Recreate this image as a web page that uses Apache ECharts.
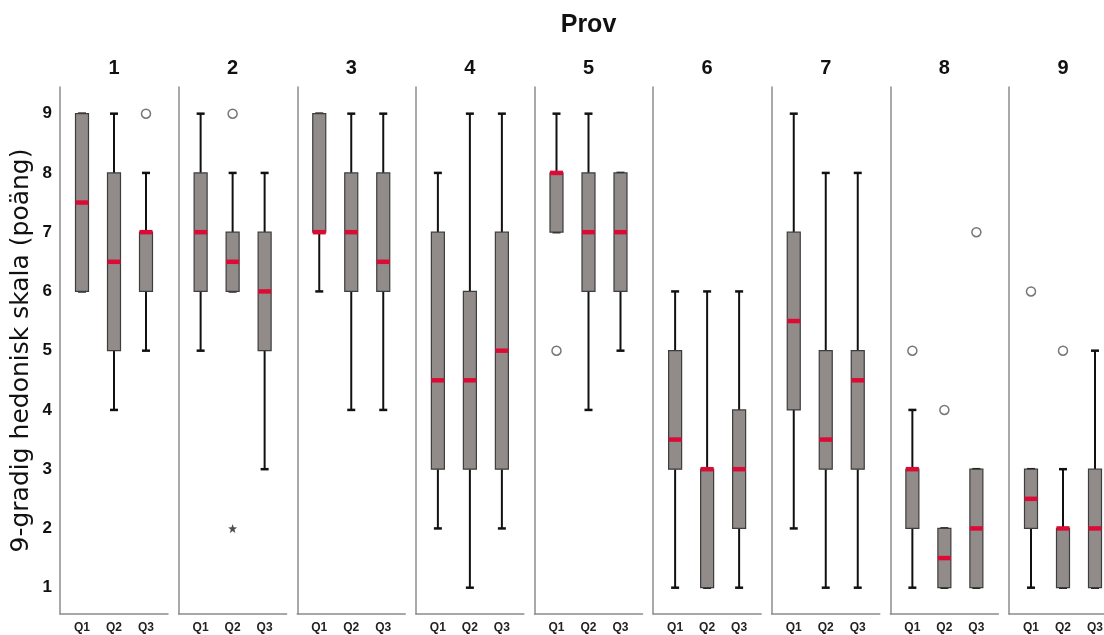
<!DOCTYPE html>
<html><head><meta charset="utf-8">
<script src="https://cdn.jsdelivr.net/npm/echarts@6/dist/echarts.min.js"></script>
<style>html,body{margin:0;padding:0;background:#fff}#c{width:1104px;height:635px}</style>
</head><body><div id="c"></div>
<script>
// ---------------- DATA ----------------
const categories = ['Q1', 'Q2', 'Q3'];
const panelNames = ['1', '2', '3', '4', '5', '6', '7', '8', '9'];
const yTicks = [1, 2, 3, 4, 5, 6, 7, 8, 9];
// each box: [min, Q1, median, Q3, max]
const prov1 = [[6, 6, 7.5, 9, 9], [4, 5, 6.5, 8, 9], [5, 6, 7, 7, 8]];
const prov2 = [[5, 6, 7, 8, 9], [6, 6, 6.5, 7, 8], [3, 5, 6, 7, 8]];
const prov3 = [[6, 7, 7, 9, 9], [4, 6, 7, 8, 9], [4, 6, 6.5, 8, 9]];
const prov4 = [[2, 3, 4.5, 7, 8], [1, 3, 4.5, 6, 9], [2, 3, 5, 7, 9]];
const prov5 = [[7, 7, 8, 8, 9], [4, 6, 7, 8, 9], [5, 6, 7, 8, 8]];
const prov6 = [[1, 3, 3.5, 5, 6], [1, 1, 3, 3, 6], [1, 2, 3, 4, 6]];
const prov7 = [[2, 4, 5.5, 7, 9], [1, 3, 3.5, 5, 8], [1, 3, 4.5, 5, 8]];
const prov8 = [[1, 2, 3, 3, 4], [1, 1, 1.5, 2, 2], [1, 1, 2, 3, 3]];
const prov9 = [[1, 2, 2.5, 3, 3], [1, 1, 2, 2, 3], [1, 1, 2, 3, 5]];
const boxData = [prov1, prov2, prov3, prov4, prov5, prov6, prov7, prov8, prov9];
// [panel index, category index, value]
const outliers = [[0, 2, 9], [1, 1, 9], [4, 0, 5], [7, 0, 5], [7, 1, 4], [7, 2, 7], [8, 0, 6], [8, 1, 5]];
const extremes = [[1, 1, 2]];

// ---------------- LAYOUT ----------------
const P_LEFT0 = 60, P_STEP = 118.625, P_W = 108, P_TOP = 87, P_H = 527, INSET = 6;
const Y_MIN = 0.556, Y_MAX = 9.45;
const FONT = 'Liberation Sans, Arial, sans-serif';
const FRAME = { color: '#8c8c8c', width: 1.5 };

function renderBox(params, api) {
  const x = api.value(0);
  const pMin = api.coord([x, api.value(1)]);
  const pQ1 = api.coord([x, api.value(2)]);
  const pMed = api.coord([x, api.value(3)]);
  const pQ3 = api.coord([x, api.value(4)]);
  const pMax = api.coord([x, api.value(5)]);
  const cx = pMin[0];
  const bw = 13, cw = 8, mh = 4.5;
  const ws = { stroke: '#111', lineWidth: 2 };
  const cs = { stroke: '#111', lineWidth: 2.5 };
  return {
    type: 'group',
    children: [
      { type: 'line', shape: { x1: cx, y1: pQ3[1], x2: cx, y2: pMax[1] }, style: ws },
      { type: 'line', shape: { x1: cx, y1: pQ1[1], x2: cx, y2: pMin[1] }, style: ws },
      { type: 'line', shape: { x1: cx - cw / 2, y1: pMax[1], x2: cx + cw / 2, y2: pMax[1] }, style: cs },
      { type: 'line', shape: { x1: cx - cw / 2, y1: pMin[1], x2: cx + cw / 2, y2: pMin[1] }, style: cs },
      { type: 'rect', shape: { x: cx - bw / 2, y: pQ3[1], width: bw, height: pQ1[1] - pQ3[1] },
        style: { fill: '#918c8a', stroke: '#3d3d3d', lineWidth: 1.2 } },
      { type: 'rect', shape: { x: cx - bw / 2, y: pMed[1] - mh / 2, width: bw, height: mh },
        style: { fill: '#dc0b35' } }
    ]
  };
}

const grid = [], xAxis = [], yAxis = [], series = [];
panelNames.forEach((name, i) => {
  const left = P_LEFT0 + i * P_STEP;
  grid.push({ left: left, top: P_TOP, width: P_W, height: P_H, outerBoundsMode: 'none', containLabel: false });
  grid.push({ left: left + INSET, top: P_TOP, width: P_W - 2 * INSET, height: P_H, outerBoundsMode: 'none', containLabel: false });
  const fg = 2 * i, dg = 2 * i + 1;
  const xb = xAxis.length;
  xAxis.push({ gridIndex: fg, type: 'category', data: categories, position: 'bottom',
    axisLine: { show: true, lineStyle: FRAME }, axisTick: { show: false }, axisLabel: { show: false } });
  xAxis.push({ gridIndex: fg, type: 'category', data: categories, position: 'top',
    axisLine: { show: false }, axisTick: { show: false }, axisLabel: { show: false },
    name: name, nameLocation: 'middle', nameGap: 9,
    nameTextStyle: { fontSize: 20, fontWeight: 'bold', color: '#111', fontFamily: FONT } });
  xAxis.push({ gridIndex: dg, type: 'category', data: categories, position: 'bottom',
    axisLine: { show: false }, axisTick: { show: false },
    axisLabel: { show: true, fontSize: 12, fontWeight: 'bold', color: '#222', margin: 8, fontFamily: FONT } });
  yAxis.push({ gridIndex: fg, type: 'value', min: Y_MIN, max: Y_MAX,
    axisLine: { show: true, lineStyle: FRAME }, axisTick: { show: false }, splitLine: { show: false },
    axisLabel: i === 0 ? { show: true, customValues: yTicks, fontSize: 17, fontWeight: 'bold', color: '#111',
      margin: 8, padding: [6, 0, 0, 0], fontFamily: 'Liberation Sans Narrow, ' + FONT } : { show: false },
    name: i === 0 ? '9-gradig hedonisk skala (poäng)' : '', nameLocation: 'middle', nameGap: 26, nameRotate: 90,
    nameTextStyle: { fontSize: 25, color: '#111', fontFamily: 'DejaVu Sans, sans-serif' } });
  yAxis.push({ gridIndex: dg, type: 'value', min: Y_MIN, max: Y_MAX, show: false });

  series.push({ type: 'custom', xAxisIndex: xb + 2, yAxisIndex: dg, renderItem: renderBox,
    encode: { x: 0, y: [1, 2, 3, 4, 5] }, clip: false,
    data: boxData[i].map((b, j) => [j].concat(b)) });
  series.push({ type: 'scatter', xAxisIndex: xb + 2, yAxisIndex: dg, symbol: 'circle', symbolSize: 9,
    itemStyle: { color: '#fff', borderColor: '#555', borderWidth: 1.5 }, z: 5,
    data: outliers.filter(o => o[0] === i).map(o => [o[1], o[2]]) });
  series.push({ type: 'scatter', xAxisIndex: xb + 2, yAxisIndex: dg, z: 5,
    symbol: 'path://M0,-10L2.351,-3.236L9.511,-3.09L3.804,1.236L5.878,8.09L0,4L-5.878,8.09L-3.804,1.236L-9.511,-3.09L-2.351,-3.236Z',
    symbolSize: 9, itemStyle: { color: '#222' },
    data: extremes.filter(o => o[0] === i).map(o => [o[1], o[2]]) });
});

const chart = echarts.init(document.getElementById('c'), null, { renderer: 'canvas' });
chart.setOption({
  animation: false,
  backgroundColor: '#fff',
  grid, xAxis, yAxis, series,
  graphic: [{ type: 'text', x: P_LEFT0 + (8 * P_STEP + P_W) / 2, y: 25,
    style: { text: 'Prov', font: 'bold 25px ' + FONT, align: 'center', verticalAlign: 'middle', fill: '#111' } }]
});
</script></body></html>
